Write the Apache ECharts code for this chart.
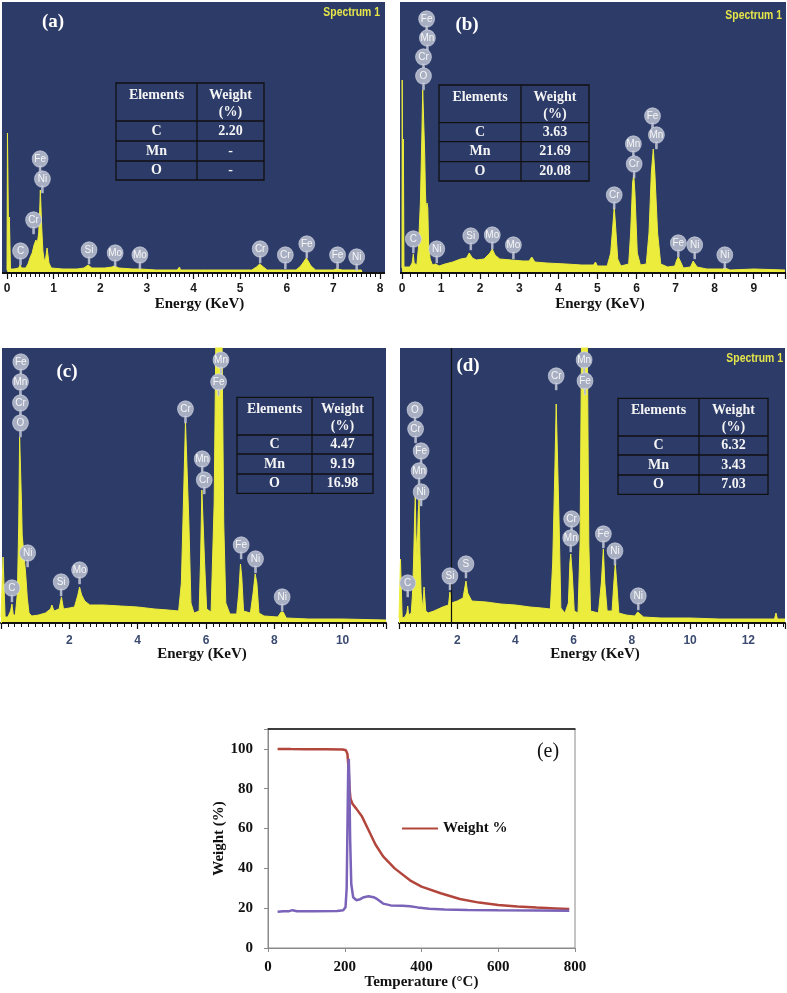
<!DOCTYPE html>
<html>
<head>
<meta charset="utf-8">
<script src="https://cdn.jsdelivr.net/npm/echarts@6/dist/echarts.min.js"></script>
<style>
html,body{margin:0;padding:0;background:#fff;}
#c{width:787px;height:993px;}
</style>
</head>
<body>
<div id="c"></div>
<script>
// ---------- DATA ----------
// EDS spectra: [energy (keV), counts (arbitrary)]
const spectrumA = [[0,3],[0.01,140],[0.03,140],[0.04,10],[0.05,56],[0.065,56],[0.075,4],[0.15,4],[0.25,5],[0.28,8],[0.31,5],[0.4,5],[0.45,9],[0.5,16],[0.54,20],[0.58,28],[0.62,33],[0.65,30],[0.68,40],[0.7,60],[0.715,83],[0.73,83],[0.745,45],[0.77,22],[0.8,12],[0.83,15],[0.86,25],[0.88,25],[0.9,10],[0.95,5],[1.2,4],[1.5,4],[1.65,5],[1.74,8],[1.82,5],[2.1,5],[2.25,6],[2.3,7],[2.4,5],[2.7,4],[2.85,4],[3.2,3],[3.65,3],[3.7,6],[3.72,3],[4.3,3],[4.32,5],[4.34,3],[5.25,3],[5.35,6],[5.42,9],[5.5,6],[5.58,3],[5.95,3],[6.2,3],[6.3,7],[6.42,15],[6.52,7],[6.62,3],[7.0,3],[7.06,4],[7.2,3],[7.45,3],[7.6,3],[7.62,0]];
const spectrumB = [[0,5],[0.005,193],[0.02,193],[0.025,8],[0.035,134],[0.045,134],[0.05,6],[0.1,5],[0.2,6],[0.26,10],[0.29,19],[0.31,10],[0.38,8],[0.42,25],[0.47,70],[0.51,140],[0.53,183],[0.56,183],[0.58,120],[0.6,80],[0.62,62],[0.64,70],[0.66,65],[0.68,30],[0.72,14],[0.78,8],[0.86,9],[0.95,7],[1.1,9],[1.3,11],[1.5,14],[1.65,15],[1.72,20],[1.76,21],[1.8,15],[1.9,13],[2.1,14],[2.25,20],[2.31,24],[2.38,18],[2.5,14],[2.8,13],[3.1,12],[3.25,12],[3.32,16],[3.4,11],[3.7,10],[4.2,9],[4.6,8],[4.9,8],[4.95,11],[5.0,7],[5.25,7],[5.34,20],[5.4,50],[5.43,66],[5.46,50],[5.52,14],[5.6,7],[5.8,9],[5.85,40],[5.9,90],[5.93,98],[5.96,80],[6.02,20],[6.1,8],[6.25,9],[6.32,40],[6.38,100],[6.43,124],[6.47,100],[6.54,40],[6.62,9],[6.8,6],[6.98,7],[7.03,13],[7.07,16],[7.12,12],[7.2,5],[7.38,6],[7.45,12],[7.48,13],[7.55,6],[7.8,4],[8.2,4],[8.26,5],[8.4,3],[9.0,4],[9.8,3]];
const spectrumC = [[0,6],[0.06,66],[0.1,66],[0.12,6],[0.2,6],[0.28,12],[0.32,19],[0.36,8],[0.42,8],[0.48,30],[0.52,100],[0.545,186],[0.575,186],[0.6,120],[0.62,88],[0.67,86],[0.72,50],[0.77,25],[0.82,10],[0.9,7],[1.1,8],[1.3,10],[1.45,14],[1.49,18],[1.55,12],[1.7,14],[1.77,26],[1.83,14],[2.0,15],[2.15,16],[2.25,28],[2.3,36],[2.36,28],[2.45,22],[2.6,18],[3.0,18],[3.5,17],[4.0,16],[4.5,14],[4.9,13],[5.2,12],[5.28,40],[5.34,120],[5.4,201],[5.44,201],[5.5,100],[5.56,20],[5.65,10],[5.8,12],[5.84,60],[5.88,133],[5.91,133],[5.96,60],[6.02,14],[6.15,11],[6.24,120],[6.3,320],[6.46,320],[6.52,100],[6.58,20],[6.7,9],[6.9,9],[6.96,30],[7.01,59],[7.05,45],[7.1,12],[7.3,10],[7.38,30],[7.44,49],[7.49,40],[7.55,10],[7.7,7],[8.1,6],[8.2,11],[8.26,11],[8.35,5],[9.0,4],[10.0,4],[11.27,3]];
const spectrumD = [[0,5],[0.05,64],[0.09,64],[0.11,5],[0.2,6],[0.27,10],[0.3,17],[0.33,8],[0.42,10],[0.46,27],[0.5,60],[0.54,110],[0.56,127],[0.58,90],[0.62,67],[0.66,110],[0.69,124],[0.72,70],[0.76,30],[0.82,14],[0.86,36],[0.88,36],[0.92,12],[1.0,10],[1.2,12],[1.5,16],[1.7,18],[1.75,31],[1.8,20],[2.0,22],[2.2,25],[2.3,42],[2.36,30],[2.5,22],[3.0,21],[3.5,19],[4.0,18],[4.5,16],[4.9,15],[5.2,14],[5.28,60],[5.36,160],[5.4,219],[5.44,219],[5.5,100],[5.56,15],[5.7,10],[5.82,20],[5.87,60],[5.9,69],[5.95,50],[6.02,12],[6.15,10],[6.22,80],[6.28,320],[6.46,320],[6.52,80],[6.58,12],[6.85,10],[6.95,40],[7.02,74],[7.07,40],[7.15,12],[7.32,12],[7.38,40],[7.43,59],[7.48,40],[7.55,10],[7.8,8],[8.1,7],[8.2,11],[8.26,11],[8.4,6],[9.0,5],[10.0,5],[11.0,4],[12.0,4],[12.9,4],[12.95,10],[13.0,4],[13.26,4]];

// element markers: [energy, height, element]
const labelsA = [[0.29,22,'C'],[0.57,53,'Cr'],[0.76,94,'Ni'],[0.71,114,'Fe'],[1.76,23,'Si'],[2.32,20,'Mo'],[2.85,18,'Mo'],[5.43,24,'Cr'],[5.97,18,'Cr'],[6.43,29,'Fe'],[7.09,18,'Fe'],[7.50,16,'Ni']];
const labelsB = [[0.63,254,'Fe'],[0.65,235,'Mn'],[0.55,216,'Cr'],[0.55,197,'O'],[0.29,34,'C'],[0.89,24,'Ni'],[1.76,37,'Si'],[2.31,38,'Mo'],[2.85,28,'Mo'],[5.43,78,'Cr'],[5.92,129,'Mn'],[5.94,109,'Cr'],[6.41,157,'Fe'],[6.51,138,'Mn'],[7.07,30,'Fe'],[7.49,28,'Ni'],[8.26,18,'Ni']];
const labelsC = [[0.58,261,'Fe'],[0.57,241,'Mn'],[0.57,220,'Cr'],[0.57,200,'O'],[0.78,70,'Ni'],[0.32,35,'C'],[1.76,41,'Si'],[2.30,53,'Mo'],[5.40,214,'Cr'],[5.89,164,'Mn'],[5.95,143,'Cr'],[6.44,263,'Mn'],[6.37,241,'Fe'],[7.03,78,'Fe'],[7.45,64,'Ni'],[8.23,26,'Ni']];
const labelsD = [[0.55,213,'O'],[0.57,194,'Cr'],[0.76,172,'Fe'],[0.69,152,'Mn'],[0.76,131,'Ni'],[0.30,40,'C'],[1.75,47,'Si'],[2.30,59,'S'],[5.40,247,'Cr'],[6.36,263,'Mn'],[6.39,242,'Fe'],[5.93,104,'Cr'],[5.90,85,'Mn'],[7.02,89,'Fe'],[7.42,72,'Ni'],[8.22,27,'Ni']];
const markerLineD = 1.79;

// tables
const tableRows = ['C','Mn','O'];
const weightA = ['2.20','-','-'];
const weightB = ['3.63','21.69','20.08'];
const weightC = ['4.47','9.19','16.98'];
const weightD = ['6.32','3.43','7.03'];

// TGA (e)
const tempW = [25,60,100,150,195,203,207,210,212,215,220,230,245,260,280,300,330,370,400,450,500,550,600,650,700,750,785];
const weightPct = [100,99.9,99.8,99.8,99.7,99.3,97.5,90,81,75,72.5,70,66,60,52,46,40,34,30.8,27.5,24.6,22.8,21.6,20.8,20.3,19.9,19.6];
const tempD = [25,40,55,64,75,120,180,196,202,205,207,209,210.5,212,214,217,222,230,240,250,262,275,285,300,320,350,370,390,420,460,520,600,700,785];
const derivCurve = [18.2,18.4,18.5,19,18.5,18.5,18.6,19,20.5,30,60,90,95,85,55,32,25.5,24,24.5,25.5,26,25.5,24.5,22.3,21.4,21.2,21,20.4,19.7,19.4,19.1,18.9,18.8,18.7];

// ---------- STYLE ----------
const NAVY = '#2c3b68';
const YEL = '#ecec3c';
const SERIF = '"Liberation Serif","Times New Roman",serif';
const NARROW = '"Liberation Sans Narrow","Arial Narrow","Liberation Sans",Arial,sans-serif';
const PIN = 'path://M0,9 A9,9 0 1,1 18,9 A9,9 0 1,1 0,9 Z M8,17 L10,17 L10,24 L8,24 Z';

const chart = echarts.init(document.getElementById('c'), null, {renderer:'canvas'});

const grids = [
  {left:7, top:2, width:373, height:271},
  {left:402, top:2, width:383, height:271},
  {left:1, top:348, width:385, height:275},
  {left:399, top:348, width:386, height:275},
  {left:268, top:729, width:307, height:219, show:true, borderColor:'#8a8a8a', borderWidth:1}
].map(g => Object.assign({outerBoundsMode:'none', containLabel:false}, g));

function specX(gi, max, interval, minorSplit, labColor, padLeft, hideZero, margin) {
  return {
    type:'value', gridIndex:gi, min:0, max:max, interval:interval,
    axisLine:{show:true, onZero:false, lineStyle:{color:'#111', width:2}},
    axisTick:{show:true, length:6, lineStyle:{color:'#111', width:1.2}},
    minorTick:{show:true, splitNumber:minorSplit, length:4, lineStyle:{color:'#111', width:1}},
    splitLine:{show:false},
    axisLabel:{margin:margin, color:labColor, fontFamily:NARROW, fontSize:12, fontWeight:'bold',
      formatter: v => (Math.abs(v - Math.round(v)) > 1e-6 || (hideZero && v === 0)) ? '' : String(v)},
    name:'Energy (KeV)', nameLocation:'middle', nameGap:24, nameMoveOverlap:false,
    nameTextStyle:{fontFamily:SERIF, fontWeight:'bold', fontSize:15, color:'#111', padding:[0,0,0,padLeft], verticalAlign:'top'}
  };
}
function specY(gi, max) {
  return {type:'value', gridIndex:gi, min:0, max:max, show:false, splitLine:{show:false}};
}

const xAxes = [
  specX(0, 8, 1, 10, '#1a1a1a', 12, false, 10),
  specX(1, 9.8, 1, 5, '#1a1a1a', 13, false, 10),
  specX(2, 11.27, 2, 10, '#3a4a70', 17, true, 12),
  specX(3, 13.26, 2, 10, '#3a4a70', 6, true, 12),
  {
    type:'value', gridIndex:4, min:0, max:800, interval:200,
    axisLine:{show:true, onZero:false, lineStyle:{color:'#8a8a8a', width:1}},
    axisTick:{show:true, length:4, lineStyle:{color:'#8a8a8a'}},
    splitLine:{show:false},
    axisLabel:{margin:12, color:'#111', fontFamily:SERIF, fontWeight:'bold', fontSize:15},
    name:'Temperature (°C)', nameLocation:'middle', nameGap:27, nameMoveOverlap:false,
    nameTextStyle:{fontFamily:SERIF, fontWeight:'bold', fontSize:15, color:'#111'}
  },
  {
    type:'value', gridIndex:4, min:0, max:800, position:'top',
    axisLine:{show:true, onZero:false, lineStyle:{color:'#111', width:1.5}},
    axisTick:{show:false}, axisLabel:{show:false}, splitLine:{show:false}
  }
];
const yAxes = [
  specY(0, 271), specY(1, 271), specY(2, 275), specY(3, 275),
  {
    type:'value', gridIndex:4, min:0, max:110, interval:20,
    axisLine:{show:true, onZero:false, lineStyle:{color:'#8a8a8a', width:1}},
    axisTick:{show:true, length:4, lineStyle:{color:'#8a8a8a'}},
    splitLine:{show:false},
    axisLabel:{margin:15, color:'#111', fontFamily:SERIF, fontWeight:'bold', fontSize:15,
      formatter: v => v > 100 ? '' : String(v)},
    name:'Weight (%)', nameLocation:'middle', nameGap:41, nameMoveOverlap:false,
    nameTextStyle:{fontFamily:SERIF, fontWeight:'bold', fontSize:15, color:'#111'}
  }
];

function specSeries(i, data, extra) {
  return Object.assign({
    type:'line', xAxisIndex:i, yAxisIndex:i, data:data, symbol:'none', showSymbol:false,
    lineStyle:{color:YEL, width:1}, areaStyle:{color:YEL, opacity:1}, clip:true, silent:true, z:2
  }, extra || {});
}
function labelSeries(i, data) {
  return {
    type:'scatter', xAxisIndex:i, yAxisIndex:i, data:data, symbol:PIN,
    symbolSize:[16,22], symbolOffset:[0,2.75], silent:true, z:5,
    itemStyle:{color:'#a8afc3', borderColor:'rgba(225,228,238,0.55)', borderWidth:1, opacity:1},
    label:{show:true, position:'inside', offset:[0,-2.75], formatter: p => p.value[2],
      color:'#f6f6f6', fontSize:10, fontFamily:NARROW}
  };
}

const series = [
  specSeries(0, spectrumA),
  specSeries(1, spectrumB),
  specSeries(2, spectrumC),
  specSeries(3, spectrumD, {
    markLine:{silent:true, symbol:['none','none'], label:{show:false},
      lineStyle:{color:'#111', width:1.2, type:'solid'}, data:[{xAxis:markerLineD}]}
  }),
  labelSeries(0, labelsA), labelSeries(1, labelsB), labelSeries(2, labelsC), labelSeries(3, labelsD),
  {
    name:'Weight %', type:'line', xAxisIndex:4, yAxisIndex:4, symbol:'none', showSymbol:false,
    data: tempW.map((t,k) => [t, weightPct[k]]),
    lineStyle:{color:'#b2463d', width:2.5}, itemStyle:{color:'#b2463d'}, z:3
  },
  {
    name:'DTG', type:'line', xAxisIndex:4, yAxisIndex:4, symbol:'none', showSymbol:false,
    data: tempD.map((t,k) => [t, derivCurve[k]]),
    lineStyle:{color:'#7a63b8', width:2.5}, itemStyle:{color:'#7a63b8'}, z:4
  }
];

// ---------- GRAPHICS (backgrounds, tables, tags) ----------
const gfx = [];
function bg(x,y,w,h){ gfx.push({type:'rect', z:-10, shape:{x:x,y:y,width:w,height:h}, style:{fill:NAVY}, silent:true}); }
function baseLine(x1,x2,y){ gfx.push({type:'line', z:50, shape:{x1:x1,y1:y,x2:x2,y2:y}, style:{stroke:'#111', lineWidth:2}, silent:true}); }
function txt(t,x,y,font,fill,align){ gfx.push({type:'text', z:60, silent:true, style:{text:t, x:x, y:y, font:font, fill:fill, align:align||'center', verticalAlign:'middle'}}); }
function specTag(xRight, y){
  gfx.push({type:'text', z:60, silent:true, x:xRight, y:y, scaleX:0.8, scaleY:1,
    style:{text:'Spectrum 1', x:0, y:0, font:'bold 13px ' + NARROW, fill:'#e6e64a', align:'right', verticalAlign:'middle'}});
}
function table(x0,xm,x1,ys,vals){
  const st = {stroke:'#111', lineWidth:1.3, fill:null};
  gfx.push({type:'rect', z:55, silent:true, shape:{x:x0,y:ys[0],width:x1-x0,height:ys[4]-ys[0]}, style:{stroke:'#111', lineWidth:1.3, fill:'rgba(0,0,0,0)'}});
  gfx.push({type:'line', z:55, silent:true, shape:{x1:xm,y1:ys[0],x2:xm,y2:ys[4]}, style:st});
  for (let k=1;k<=3;k++) gfx.push({type:'line', z:55, silent:true, shape:{x1:x0,y1:ys[k],x2:x1,y2:ys[k]}, style:st});
  const f = 'bold 14px ' + SERIF, c = '#f4f4f4';
  const cl = (x0+xm)/2, cr = (xm+x1)/2;
  txt('Elements', cl, ys[0]+12, f, c);
  txt('Weight', cr, ys[0]+12, f, c);
  txt('(%)', cr, ys[0]+29, f, c);
  for (let k=0;k<3;k++){
    const yc = (ys[k+1]+ys[k+2])/2;
    txt(tableRows[k], cl, yc, f, c);
    txt(vals[k], cr, yc, f, c);
  }
}
bg(2,2,383,271); bg(400,2,386,271); bg(2,348,384,275); bg(400,348,385,275);
baseLine(2,385,273); baseLine(400,786,273); baseLine(2,386,623); baseLine(400,785,623);
const tagFont = 'bold 19px ' + SERIF;
txt('(a)', 53, 22, tagFont, '#ffffff');
txt('(b)', 467, 25, tagFont, '#ffffff');
txt('(c)', 67, 372, tagFont, '#ffffff');
txt('(d)', 468, 366, tagFont, '#ffffff');
specTag(380, 12);
specTag(782, 15);
specTag(783, 358);
table(116,197,264,[83,121,141,161,180], weightA);
table(439,521,589,[85,122.7,141.7,161.7,181], weightB);
table(237,312,373,[397.3,435,454,474,493.3], weightC);
table(618,699,768,[398.3,436,455,475,494.3], weightD);
txt('(e)', 548, 752, '20px ' + SERIF, '#111');

chart.setOption({
  animation:false,
  backgroundColor:'#ffffff',
  grid:grids,
  xAxis:xAxes,
  yAxis:yAxes,
  legend:{
    show:true, data:['Weight %'], left:397, top:816, orient:'horizontal',
    itemWidth:36, itemHeight:12, icon:'path://M0,5 L36,5 L36,7 L0,7 Z',
    itemStyle:{color:'#b2463d'},
    textStyle:{fontFamily:SERIF, fontWeight:'bold', fontSize:15, color:'#111'},
    selectedMode:false
  },
  graphic:{elements:gfx},
  series:series
});
</script>
</body>
</html>
